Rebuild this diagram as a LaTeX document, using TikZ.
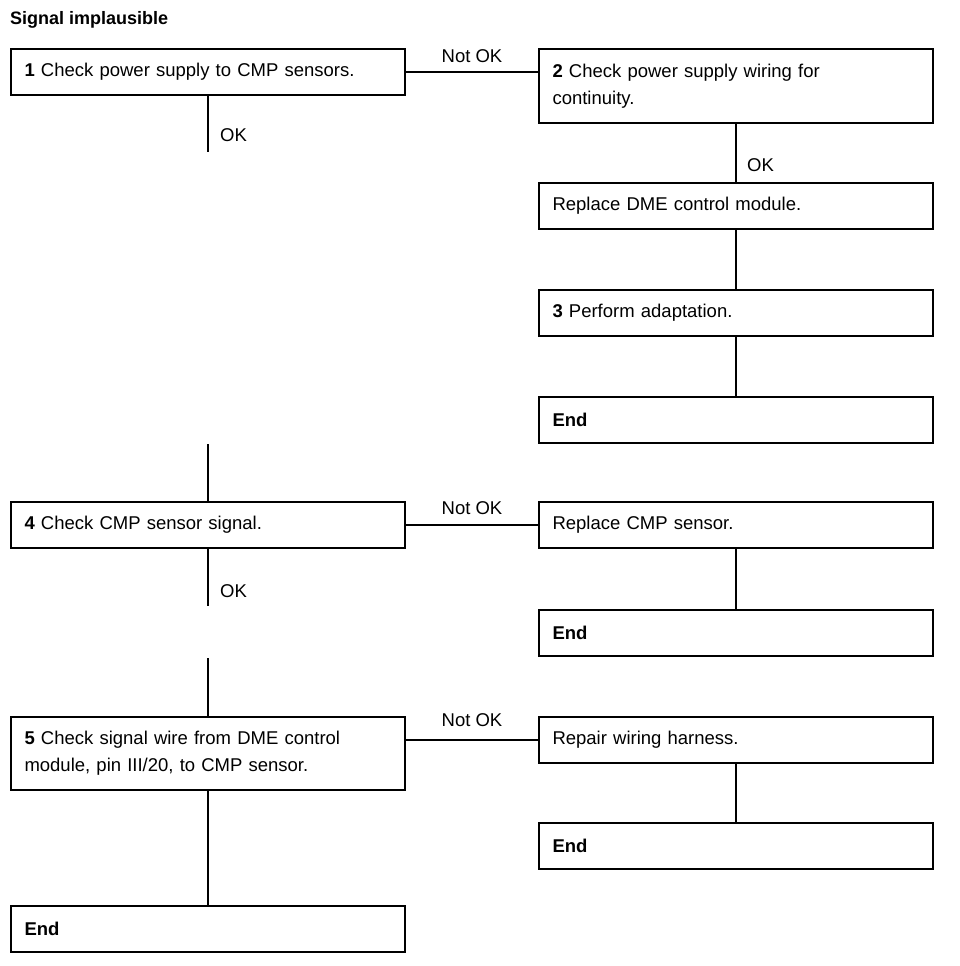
\documentclass[tikz,border=0pt]{standalone}
\usepackage{fontspec}
\setmainfont{Liberation Sans}
\begin{document}
\begin{tikzpicture}[x=1pt,y=-1pt,
  box/.style={draw,line width=2pt,anchor=north west,minimum height=46pt,
    text width=367pt,inner xsep=13.5pt,inner ysep=0pt,align=left,
    font=\fontsize{18.5}{27}\selectfont},
  conn/.style={line width=2pt},
  lbl/.style={font=\fontsize{18.5}{20}\selectfont,inner sep=0pt}]
\useasboundingbox (0,0) rectangle (960,966);
\node[anchor=west,inner sep=0pt,font=\bfseries\fontsize{18}{20}\selectfont] (title) at (10,20) {Signal implausible};
% left column
\node[box] (b1) at (10,48) {\textbf{1} Check power supply to CMP sensors.};
\node[box] (b4) at (10,501) {\textbf{4} Check CMP sensor signal.};
\node[box,minimum height=73pt] (b5) at (10,716) {\textbf{5} Check signal wire from DME control\\module, pin III/20, to CMP sensor.};
\node[box] (e5) at (10,905) {\textbf{End}};
% right column
\node[box,minimum height=74pt] (b2) at (538,48) {\textbf{2} Check power supply wiring for\\continuity.};
\node[box] (rdme) at (538,182) {Replace DME control module.};
\node[box] (b3) at (538,289) {\textbf{3} Perform adaptation.};
\node[box] (e3) at (538,396) {\textbf{End}};
\node[box] (rcmp) at (538,501) {Replace CMP sensor.};
\node[box] (e4) at (538,609) {\textbf{End}};
\node[box] (rwh) at (538,716) {Repair wiring harness.};
\node[box] (e6) at (538,822) {\textbf{End}};
% free ends
\path (b1.south) ++(0,56) coordinate (c1);
\path (b4.north) ++(0,-57) coordinate (c2);
\path (b4.south) ++(0,57) coordinate (c3);
\path (b5.north) ++(0,-58) coordinate (c4);
% connectors
\draw[conn] (b1.south) -- (c1);
\draw[conn] (c2) -- (b4.north);
\draw[conn] (b4.south) -- (c3);
\draw[conn] (c4) -- (b5.north);
\draw[conn] (b5.south) -- (e5.north);
\draw[conn] (b1.east) -- (b1.east -| b2.west);
\draw[conn] (b4.east) -- (rcmp.west);
\draw[conn] (rwh.west -| b5.east) -- (rwh.west);
\draw[conn] (b2.south) -- (rdme.north);
\draw[conn] (rdme.south) -- (b3.north);
\draw[conn] (b3.south) -- (e3.north);
\draw[conn] (rcmp.south) -- (e4.north);
\draw[conn] (rwh.south) -- (e6.north);
% labels
\node[lbl,anchor=west] (ok1) at (220,135) {OK};
\node[lbl,anchor=west] (ok4) at (220,591) {OK};
\node[lbl,anchor=west] (ok2) at (747,165) {OK};
\node[lbl] (n1) at (472,56) {Not OK};
\node[lbl] (n4) at (472,508) {Not OK};
\node[lbl] (n5) at (472,720) {Not OK};
\end{tikzpicture}
\end{document}
